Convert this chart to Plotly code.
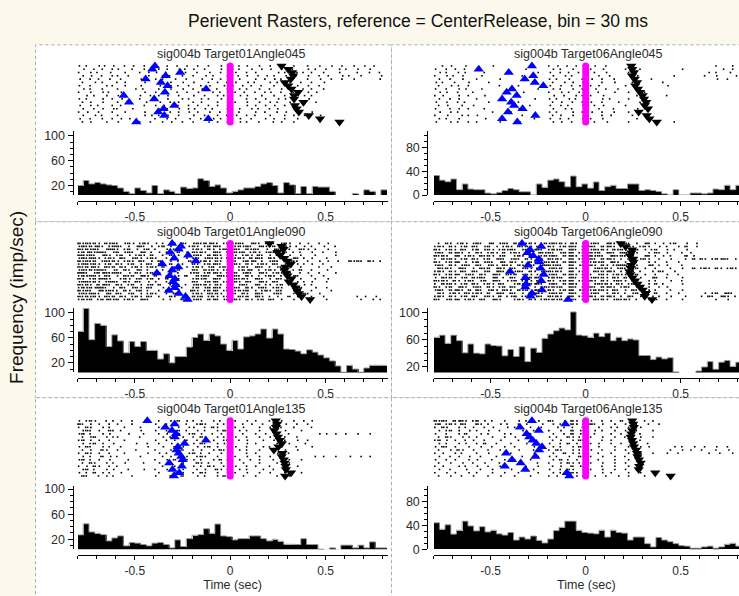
import plotly.graph_objects as go

FIG_W, FIG_H = 739, 596
FONT = "Liberation Sans, Arial, sans-serif"

TITLE = "Perievent Rasters, reference = CenterRelease, bin = 30 ms"
Y_LABEL = "Frequency (imp/sec)"
X_LABEL = "Time (sec)"
PANEL_TITLES = [
    "sig004b Target01Angle045", "sig004b Target06Angle045",
    "sig004b Target01Angle090", "sig004b Target06Angle090",
    "sig004b Target01Angle135", "sig004b Target06Angle135",
]
X_TICKS = [-0.5, 0, 0.5]
X_TICK_LABELS = ["-0.5", "0", "0.5"]

# histogram: 30 ms bins starting at -0.8 s, firing rate in imp/sec
HIST_START = -0.8
HIST_BIN = 0.03

TL_RATE = [20, 28, 22.6, 25, 22.6, 21, 20, 16, 10.6, 7, 16, 12, 8, 20, 7, 13, 10.6, 7,
           17.4, 15, 16, 31, 28, 18.4, 21, 16, 8, 10.6, 13, 16, 16, 18.4, 22.6, 24.7, 20, 8,
           24.7, 21, 7, 18.4, 7, 18.4, 17.4, 17.4, 10.6, 0, 0, 0, 7, 0, 13, 10.6, 0, 13]
TR_RATE = [33, 25, 22.5, 27, 9, 18.6, 10, 9, 9, 3.3, 2, 4.4, 7.7, 11, 9, 5.5, 5.5, 0,
           18.6, 13, 25, 27, 22.5, 14, 32, 14, 18.6, 11.5, 22, 7.7, 14, 16.4, 11, 11, 18.6, 18.6,
           7.7, 9, 7.7, 6, 2, 0, 9, 0, 0, 3.3, 3.3, 2, 3.3, 10, 9, 16.4, 9, 16.4]
ML_RATE = [70, 107, 57, 83, 80, 46, 64.7, 55, 36, 54, 46, 54, 40, 40, 26, 34.5, 20, 30,
           30, 45, 60.5, 66, 56, 66, 63, 50, 40, 56, 42, 61.5, 63, 66, 74, 59.5, 74, 66,
           42, 41.3, 38.7, 34.5, 40.8, 37, 32.5, 28, 23, 15, 5, 16, 10, 5, 11.7, 16, 16, 16]
MR_RATE = [64, 67, 55, 67, 59, 41, 54, 40.5, 39.5, 54, 51.7, 51, 36.6, 46, 35.6, 50, 28, 47.8,
           41.5, 62.4, 68.8, 73.7, 77.6, 75, 101.5, 67.3, 66.3, 64, 70, 65, 70, 59, 64, 59, 61.5, 60,
           37, 37, 31, 34.6, 32, 33.7, 12.7, 10, 10, 10, 14, 20, 28, 16.6, 27, 29.7, 21, 27]
BL_RATE = [27, 44.7, 31.6, 29.5, 27.4, 17.4, 22, 25.3, 9.5, 14.7, 13.7, 11.6, 9.5, 13.7, 14.7, 11.6, 6.3, 19,
           8.4, 21, 26.3, 27.4, 36.8, 29.5, 44.2, 25.3, 24.2, 19, 21, 21, 25.3, 25.3, 21, 17.4, 20, 16.8,
           12, 12, 11.6, 21, 11.6, 11.6, 4.2, 3, 6.3, 3, 10.5, 10.5, 6.3, 10.5, 6.3, 15.8, 6.3, 6.3]
BR_RATE = [44.4, 33.4, 41, 25.2, 31.8, 47, 39, 30.7, 37.8, 29, 31.8, 25.8, 23.6, 28, 15.3, 20.3, 17, 22,
           14.8, 10.4, 17, 31.2, 36.7, 47, 47, 31.8, 28, 26.8, 25.8, 31.8, 20.3, 31.8, 28, 26.8, 15.3, 20.3,
           20.3, 9.3, 3.8, 19.7, 15.3, 12.6, 9.3, 6, 5, 1.6, 1.6, 3.8, 5, 1.6, 3.8, 8.2, 9.9, 5]

# per-trial event times (s) relative to CenterRelease: earlier event (blue) and later event (black)
TL_BLUE = [-0.394, -0.408, -0.262, -0.338, -0.443, -0.363, -0.328, -0.126, -0.342, -0.558,
           -0.398, -0.530, -0.293, -0.349, -0.377, -0.345, -0.115, -0.492]
TL_BLACK = [0.269, 0.304, 0.325, 0.330, 0.318, 0.286, 0.304, 0.321, 0.356, 0.335,
            0.335, 0.384, 0.339, 0.348, 0.36, 0.412, 0.471, 0.573]
TR_BLUE = [-0.283, -0.563, -0.405, -0.276, -0.321, -0.268, -0.223, -0.388, -0.416, -0.363,
           -0.44, -0.392, -0.377, -0.332, -0.409, -0.265, -0.44, -0.36]
TR_BLACK = [0.240, 0.245, 0.254, 0.244, 0.258, 0.27, 0.261, 0.275, 0.286, 0.300,
            0.307, 0.319, 0.311, 0.328, 0.279, 0.321, 0.335, 0.374]
ML_BLUE = [-0.304, -0.258, -0.27, -0.314, -0.22, -0.293, -0.181, -0.356, -0.272, -0.304,
           -0.384, -0.317, -0.290, -0.30, -0.286, -0.290, -0.321, -0.269, -0.234, -0.223]
ML_BLACK = [0.206, 0.269, 0.28, 0.248, 0.262, 0.283, 0.30, 0.318, 0.29, 0.286,
            0.293, 0.30, 0.321, 0.307, 0.332, 0.342, 0.35, 0.360, 0.374, 0.419]
MR_BLUE = [-0.335, -0.234, -0.293, -0.307, -0.276, -0.247, -0.244, -0.304, -0.237, -0.398,
           -0.221, -0.318, -0.234, -0.314, -0.318, -0.230, -0.283, -0.29, -0.093]
MR_BLACK = [0.184, 0.21, 0.244, 0.24, 0.233, 0.25, 0.251, 0.24, 0.237, 0.23,
            0.235, 0.247, 0.26, 0.272, 0.286, 0.30, 0.317, 0.311, 0.349]
BL_BLUE = [-0.434, -0.291, -0.340, -0.305, -0.284, -0.29, -0.127, -0.239, -0.274, -0.281,
           -0.270, -0.256, -0.249, -0.319, -0.253, -0.302, -0.267, -0.295]
BL_BLACK = [0.239, 0.246, 0.24, 0.232, 0.243, 0.25, 0.260, 0.271, 0.253, 0.229,
            0.274, 0.27, 0.281, 0.285, 0.29, 0.292, 0.319, 0.288]
BR_BLUE = [-0.283, -0.107, -0.346, -0.247, -0.311, -0.297, -0.279, -0.26, -0.230, -0.245,
           -0.419, -0.265, -0.388, -0.342, -0.426, -0.318, -0.100, -0.086]
BR_BLACK = [0.245, 0.25, 0.253, 0.245, 0.24, 0.237, 0.244, 0.25, 0.254, 0.265,
            0.27, 0.272, 0.28, 0.289, 0.282, 0.279, 0.366, 0.447]

# spike trains: one string per trial, one character per 20 ms slot starting at -0.8 s
# '.' no spike, '0'-'4' one spike (offset in 4 ms steps), ':' two spikes; spaces ignored
SLOT_START = -0.8
SLOT = 0.02

TL_SPIKES = [
    "2.1..3.0.2 ..1.3..2.. 1..2..0.3. .2..1..3.. ..1.2..3.. 2..1..3... 1..2..3..1 ..2..1.3..",
    ".3..1.2..0 3...1..2.. .1.2..3.0. 2..1...3.. 2.1..3..1. 3..2..1... 2.1..0..3. 1..2..3...",
    "1..2.0..3. ..2...1.3. 3..0..2.1. .1..3..2.. .2..1.3... ..3.1..2.0 .1..2...3. ...1..2..0",
    ".2.3..1..0 2..1....3. ..1.0..2.. 1..3.2...1 ..0.2..1.3 .2..3..1.. 2..1.3...2 .0..1....3",
    "3..1.2..2. .1....3... 2.1..3..2. ..3..1.2.. 1.2...3..0 .3.1..2... 1..3..2..1 ..2......1",
    ".1..3.2... 1.2....3.. ..1.2..3.. 2...1.3..0 .2..3.1... 2.1..3..2. .1..3",
    "2..1...3.0 ..2...3... .3..2.1..0 ..1.3...2. 3..1.2..0. .2...1.3.. 2..1.",
    ".3.1..2... 2....1.0.. .1..2..3.. 1.3...2..1 ..2.1..3.. 1..2.3...0 .1..2",
    "1..2..3.0. .2.....3.. 2..1..0.3. .3...2.1.. .1.3..2..0 3..1..2... 2.3",
    "..2.1..3.. 3.....2..0 .1.3..2... 2..1..3.1. ..3.2...1. .2..1.3..2 .1",
    "2.1...3..0 .3....1... 1..3...2.0 ..2.1..3.. 2...1.3..1 ..3.2..1.. 3.",
    ".1.2..3... 2..1....0. .3..1.2... 1.2...3..2 .1..2..3.. 2.1..3... 1..2",
    "3..2.1...0 .1.....2.. 2.3...1..0 .2..1.3... 1...2.3..1 .3..1..2..",
    ".2..1.3..2 1...2..... .1.2..3..0 3..2.1...1 ..2..3.1.. 1.2...3...",
    "1.3..2...0 ..2....3.. 3...1.2..1 .2..3..1.. 2.1...3..0 ..1.3..2.. .2",
    ".2..3.1... 2......3.2 .1.3..2... 2..1..3..0 .3..1.2... 2...1.3..2 1..3",
    "3..1..2..0 .2.3...... 1..2.3...2 ..1..3.2.. 1.3..2...1 .2..1..3.. ...2",
    ".1.2...3.. 3.....1..0 ..1.3..2.. 1...2.3..1 ..3.1..2.. .1.2..3...",
]
TR_SPIKES = [
    "..1.3...2. .....3.... .......... 1.3..0.2.. ..2..1.... ..1....... .......... ....1...3.",
    "2..1.3..0. .2........ ....1..... .2.1..3..2 .1..3..... 2...1..... .....2.... ......1.3.",
    ".3.1..2.1. ...1...... .......2.. 3..1.2..0. ..1..2.... .1........ .......... ..2.1...0.",
    "1..2.0.3.. ..3....... ...1...... .2..3.1..2 ...2..1... ...3...... ...1...... .1..2....3",
    ".2..1..3.. .1.....2.. .......... 2.1..3...0 .3..1..2.. .......1.. .......... ....3..1..",
    "3.1..2...1 ....2..... ......1... .1..2.3..1 2...1..3.. ..1....... 1",
    ".1..3.2..0 .......1.. ..1....... 3..2..1.2. .1.2...... 2......... .3",
    "2..1..3.2. ..3....... .......2.. .2.1..3..0 ..3..1..2. ....1.....",
    ".3.2..1... 1......... ...3...... 1..3.2..1. 2..1...3.. .1...2....",
    "1.2...3..0 ...2...... .1........ .3..1..2.0 .1..3..... ...2...... .1",
    ".2..1.3... .1.....2.. ......3... 2.1..3.1.. 3...2.1... .1........",
    "3..2..1.0. ....2..... ..1....... .1.3..2..0 .2..1...3. ....1.....",
    ".1.3...2.. 2......... .....1.... 3..2.1...1 ..1.3..... 2.........",
    "2...1.3..0 ...1...... ..2....... .2..3.1..2 1..2...1.. ...3......",
    ".3..2.1... .....2.... 1......... 2.1...3..0 .3..1..2.. .1",
    "1..3...2.0 .2........ ...1...... .1.2..3... 2...1.3... ..1.......",
    ".2.1..3... ...3...... ......2... 3..1.2...1 .1..2..... ...2",
    "3...2.1..0 .1.....2.. ..3....... .2.3..1..2 ..1..3.... .1........ ...1",
]
ML_SPIKES = [
    ":2:1:3.:2: 1.2:3.1:2. 3.1..2.:1. 2:1:3:2.1: :2:1.3:2.1 :1.2:3..1. 2..1.3....",
    "2:1:3:2.1: :1.2.3:1.2 .1:.2..3.1 :2.1:3:1.2 .1:2:1.3:2 2:.1:3.1.2 .1..3..2..",
    ":1:2:1.3:: 2.1:.3.2:. 1..2.:.1.. 1:2.:3.1:: 2:1.:2:1.3 .3:1.2..:1 2.1..3....",
    "1:3:2::1.2 :.2:1.3:.1 .2.1..:.3. :1:2.3:1.: 1:2:.1:3.2 :1.3:.2.1. .2..1..3..",
    "::2:1.3:2. 1:.3.1:2.: ..1.:.2..1 2:1.:3:2.1 :2.1:3.:1. 2.:1.3..2. ..1....3..",
    "2:1::3.1:2 .:1.2:3.1: 2..1.:..3. 1:.2:1:3.: .1:2.:3:1. :2.1..3:.1 .2...1....",
    ":2:1:.2:1: 3.1:2.:1.2 .:..2.1..: 2:1:3.:2.1 :1.2:3:.1. 2:1.3.:2.. 1..2.3..1. .:2:1.:2.1",
    "1::2:3.1:. :2.1:.3.:1 .1..:..2.. :2.1:3:1.2 1:2.:3.1:2 .:1.2..3.1 .2..1.....",
    ":1:3:2.:1: .:2.1:3.1: 2.:..1..3. 1:3.2:.1:2 :.1:2.3:1. 1.2:.3..2. ...1..2...",
    "2:1:2::1.3 1.:2.3:.1. ..1.2.:... :1.:2:3.1: 2.1:3:.2.1 :3.1..2.:. .1...2....",
    "::1.2:3:1: :1.3.:2.1: .2..:.1..3 2:.1:3:2.: 1:.2:1.3:2 .1:2.3..1. 2..1...3..",
    "1:2::3.:1. 2.:1:.3:2. :..1..2.:. .:2:1.3:1: 2:1.:3.2.1 :2.1..3:.. .1..2.....",
    ":2.1:3::2. .1:3.2:.1: .1.:..2... 1:2:.3:1.2 .:1:2.3:1. 2.:1.3..2. ..1..3....",
    "2::1:3.2:: 1.:2.:1.3. 2..1.:.... :1.2:3:.1: 1:2.:1.3:2 .:1..2.3.1 .2...1....",
    ":1:2.:3:1. :2.1:.3.2: .:..1.2.1. 2:1:3.:2.1 :.2:1.3:.1 2.1:..3..2 .1........",
    "1:2:3::1.2 .:1.2:3.:1 ..2..:.1.. 1:.2:3:1.: 2:1.:3.2:1 .1:2..3.:. ..2..1....",
    ":2:1.3:2:1 1.:3.2:.1. .1.:..2..3 :2.1:3:.1: .1:2:.3.1: 2.:1..3.1. .1....2...",
    "2:1::2.3:. :1.2:.3.1: 2..1.:.... 1:2.:1:3.2 :1.:2.3:1. .2:1..3..: 1..2......",
    ":1:2:3.:1: .:2.1:3.:1 .1..:2..1. :2:.1:3.1: 2.:1:.3:2. 1.2..:.3.. .1..2..... ...1.2..1.",
    "1:2:.1:3:2 :.1:2.3:1. ..2.1..:.. 2:1.:3:.2: 1:2.:3.1:. :1.2..3... 2....1.... ....1..2.1",
]
MR_SPIKES = [
    ".1.:2.1:3. 2:1.3:.2:1 .:2.1:3.1: 2:1:3.:2.1 :2:1.3:2.1 :1.2.3:.1. 2.1:..3..1",
    "1:2.:3.1:. :1.2:.3.1: 2.:1:3.:2. :2.1:3:1.: 2:1.:3:2.1 .:2.1:3..2 .1..2.:..1",
    ":2.1:3.:1. 1:.2:3.1:2 :1.2:.3:1. 1:2:.3:1.: .2:1:3.:2: 2.1:.3.1:. .2.1..3...",
    "2:1.:3:2.1 .:2.1:3.:. 1:2.:1.3:2 :1.2:3:.1: 1:2:.3:1.: :1.2..3.:1 .2...1.3..",
    ":1:2.3:.1: 2.:1:3.2:. .1:2.:3.1: 2:1.:3:2.: .:2:1.3:1: 1:2..3:.1. 2.1...:.2.",
    "1.:2:3.1:. :2.1:.3:1. 2:1.:3.:2. :1:2.3:.1: 2:1.:3:2.1 .:1.2:3..1 ..2...1.:. :2.1:3:1.2",
    ":2.1:3:.2. 1:.2:1.3:. :2.1.:3.1: 1:2.:3:1.: .1:2:.3:2. 2.:1..3.1. .1..2.....",
    "2:1.:3.2:1 .:1.2:3.:1 1.:2.:1.3: :2:1.3:.2: 1:2.:3.1:: :1.2..3:.1 .2...1....",
    ".:1:2.3:1. 2.:1:.3:2. :1.2:3.:1. 2:1:.3:2.1 :.2:1:3.2: 1.2:.3..1. ..1..2..:. 1:2.:3.1:2",
    "1:2.:3.:1. :1.2:.3:1. .2:1.:3.2: :1:2.3:.1: 2.:1:3:2.1 .:2.1..3.: 1..2......",
    ":2.1:3:.2: 1.:2.3:1.: 1:.2:3.1:. 2:1.:3:2.: :1.2:3.1:2 2.1:.3..1. .2..1.....",
    "2.:1:3.2:. :2:1.3:.1. :1.2.:3:1. 1:2:.3:1.: .2:1:3.:2. :.1.2..3:. .1...2....",
    ":1:2.:3.1: 1.2:.3:1.2 2:.1:3.:2. :2.1:3:.1: 1:2.:3.2:1 2.:1..3.1. ..2..1....",
    "1.:2:3.1:. :2.1:3.:1. .1:2.:3:1. 2:1.:3:2.1 :.2:1:3.:2 .1:2..3.:. 1....2....",
    ":2.1:.3:2. 2:1.:3.1:. :1.2:.3.1: 1:2:.3:1.: 2:1.:3:2.1 :1.2..3..1 .2........",
    "2:1.:3:2.: .:1.2:3.:1 1.:2:.3:1. :2.1:3:.2: .1:2:3.:1. 2.:1..3.1. ..1..2....",
    ".:2.1:3.:1 1:2.:.3:1. :1.2.:3:2. 2:1:.3:1.: :2:1.3.:2. 1.2:.3..:. .1..2..... .2.1:.3:1.",
    "1:2.:3.1:. :1.2:3.:.1 2:.1:3.:1. :1:2.3:.1: 1:2.:3:2.1 .:1.2..3.1 ..2...1... 2.:1.3:2.1",
    ":1.2:3:.1: 2.:1.3:2.. .1:2.:3.1: 1:2:.3:1.: 2.:1:3.2:1 :2.1..3.:. .1...2.... ....1..2..",
]
BL_SPIKES = [
    "2.1:3..2.1 .2..1..3.. .1..2.:.3. 1.2..3.1.2 .1..2.3... 1..2..3..1 .2",
    ":1.2.3..1. 2...1..... 2..1.3..2. .1:2..3.1. 2..1.3..2. .1..3..2.. 1",
    "1.:2..3.1. ..1...2... .1..3.2..1 2..1.:3..2 .1.2...3.. 2..1..3... .1",
    ".2:1.3..:1 .1....3... 2..1..:.2. .2.1..3.:1 ..2.1..3.. .1..2...3.",
    "2:.1..3.2. ...2...1.. .1.2..3..1 :.2..1.3.. 2..1..3..1 ..2..1.... ...2.1.3.. 1..2..3...",
    ".1.2:..3.1 2.....1... ..2.1..3.. 1.:2..3.1. .2..1..3.. 2...1..2..",
    "1:.2.3..1. ..1....... 2..1.2..:. .1.2.3..1: ..1.2...3. .2..1..3.. 1",
    ".2.1:.3..2 .....2..1. .1..3..2.. 2.:1..3.2. 1...2.3... ..1..2...3",
    "2.:1..3.1. .1......2. ..2..1.3.. .2.1:.3..1 .2..1...3. 1..2...1.. .2",
    ".1.2..:3.. 2....1.... 1...2..:.. 1.2..3.:1. ..2.1..3.. .1..2..3..",
    "1.:2.3..1. ..1.....2. .2.1..3..1 :.1.2..3.. 2...1.3... ..2..1....",
    ".2.1..:.3. 1.....2... ..1.2...3. .1:2..3..2 .1..2..3.. 2..1...... ..1.2..3.. .2..1.3...",
    "2:.1.3..2. ...1...... 1..2.:..3. 2.1..3.:.1 ..2..1.3.. .1...2..3.",
    ".1.:2..3.1 ..2....1.. .2..1..3.. .:2.1..3.2 1..2...3.. ..1..2....",
    "1.2.:3..1. 1......... ..1..2.:.. 2.1.:3..1. .2..1.3... 1...2..3..",
    ".2:.1..3.2 ...1...2.. 1..2...3.. .1.2..:3.1 ..2.1...3. .1..2.....",
    "2.1.:.3.1. .2........ .1...2.3.. 1.:2..3..2 .1..2..3.. 2...1...3.",
    ".:1..2.3.1 ....1..... 2...1..:.. .2.1..3.:. 1..2..3... ..1..2....",
]
BR_SPIKES = [
    ":2:1.:3:2. 1:.2.1..3.. .2.1..3..: 1..2.:3.1. 2..1.3..:. .1..2.3...",
    "2:.1:3.:1. .:2.1..3.1 ..1.2...3. .2.1..:3.1 .:1.2..3.. 2..1..2..1",
    "1.:2..3.1. 2..1.3...2 .1...2..1. ..3.1.2..: 1..2..3.1. .1..2.....",
    ".2.1:.3..2 .1..2..1.. ...2..1... 1..2..:.3. ..2.1..3.. 2..1...3..",
    "2..1..3.:. ..2.1...3. 1....2.... .2..1.:.3. 2.1...3..1 .2..1.....",
    ".1.:2..3.1 .1...2..3. .2...1.... 2.1..:3.1. .1..2..3.. 1...2..3..",
    "1:.2.3..1. 2..1...3.. ..1...2... .1.2..3.:1 2...1.3... .2..1.....",
    ".2.1..3.2. .1.:..2... 1...2..... 2..1.:.3.. .1.2..3..1 ..2...1...",
    "2.:1.3...1 ..2..1..3. .1....2... .2.1..3.:. 1..2...3.. .1..2.3... ...2.1..3. .1..2..1..",
    ".1..2.:3.. 2...1..2.. ..2...1... 1.:2..3.1. .2..1..3.. 2..1...... ..1..2.3.. 2...1..3..",
    "1.2..3.1.. .1..2...3. 1.....2... .2..:.3.1. 2..1..3... .1..2..3.. .2..1..... ..2..1..3.",
    ".2..1.3..2 ..1...2... ...1...2.. 2.1..3..:. .1..2..3.. 1...2.....",
    "2..1.3...1 .2...1..3. .1...2.... .2.:.1.3.. 2..1...3.. .1..2.....",
    ".1..2..3.. 1..2...1.. ..2....1.. 1..2.:3.1. .1..2..3.. 2...1.....",
    "1.2...3.1. .2..1..2.. ....1..2.. .1.2..:.3. 2...1..3.. .1..2.....",
    ".2..1...3. ..1..2.... 2.....1... 2..1.:3..1 .1..2..3.. 2..1......",
    "1..2.3...1 .1...2..3. ..1....2.. .2.1..:3.. 1...2.3... .1..2.....",
    ".1..2..1.. 2...1..3.. .1...2.... 1.2..:.3.1 ..2..1..3. .1...2....",
]

PANEL_DATA = [
    (TL_SPIKES, TL_BLUE, TL_BLACK, TL_RATE),
    (TR_SPIKES, TR_BLUE, TR_BLACK, TR_RATE),
    (ML_SPIKES, ML_BLUE, ML_BLACK, ML_RATE),
    (MR_SPIKES, MR_BLUE, MR_BLACK, MR_RATE),
    (BL_SPIKES, BL_BLUE, BL_BLACK, BL_RATE),
    (BR_SPIKES, BR_BLUE, BR_BLACK, BR_RATE),
]

# ---------------- page geometry (pixels) ----------------
COLS = [
    dict(box=(35.5, 391.5), yline=72.5, plot=(77.5, 387.6), xr=(-0.8, 0.825), mid=231.5),
    dict(box=(391.5, 760.0), yline=427.3, plot=(433.7, 739.0), xr=(-0.8, 0.807), mid=588.0),
]
ROWS = [
    dict(box=(42.5, 222.5), title=51.5, raster=(64.0, 121.0), hist=(130.0, 195.3), xline=201.7),
    dict(box=(222.5, 401.5), title=232.5, raster=(244.5, 301.5), hist=(310.0, 375.7), xline=381.7),
    dict(box=(401.5, 640.0), title=412.5, raster=(425.0, 481.0), hist=(491.0, 555.5), xline=561.7),
]
HIST_YRANGE = [(4.7, 108), (0, 108.6), (4.7, 108), (12, 107.7), (4.2, 105.3), (0, 106.6)]
HIST_TICK0 = [20, 0, 20, 20, 20, 0]

BG = "#FCF9EC"
TEXT = "#2b2b2b"


def fx(p):
    return p / FIG_W


def fy(p):
    return 1 - p / FIG_H


def parse_train(s):
    s = s.replace(" ", "")
    times = []
    for i, ch in enumerate(s):
        t0 = SLOT_START + i * SLOT
        if ch == ".":
            continue
        if ch == ":":
            times += [t0 + 0.003, t0 + 0.013]
        else:
            times.append(t0 + 0.002 + 0.004 * int(ch))
    return times


def names(n):
    s = "" if n == 1 else str(n)
    return "x" + s, "y" + s, "xaxis" + s, "yaxis" + s


fig = go.Figure()
layout_axes = {}
shapes = []
annotations = []

for k, (spikes, blue, black, rate) in enumerate(PANEL_DATA):
    r, c = divmod(k, 2)
    col, row = COLS[c], ROWS[r]
    n = len(spikes)
    rows_idx = list(range(n))

    # panel frame
    shapes.append(dict(type="rect", xref="paper", yref="paper",
                       x0=fx(col["box"][0]), x1=fx(col["box"][1]),
                       y0=fy(row["box"][1]), y1=fy(row["box"][0]),
                       fillcolor="white", layer="below",
                       line=dict(color="#ABABAB", width=1, dash="dot")))
    annotations.append(dict(text=PANEL_TITLES[k], x=fx(col["mid"]), y=fy(row["title"]),
                            xref="paper", yref="paper", showarrow=False,
                            xanchor="center", yanchor="middle", borderpad=0,
                            font=dict(size=12.5, color=TEXT, family=FONT)))

    # ---- raster ----
    rx, ry, rxa, rya = names(2 * k + 1)
    xs, ys = [], []
    for i, s in enumerate(spikes):
        tt = parse_train(s)
        xs += tt
        ys += [i] * len(tt)
    fig.add_trace(go.Scatter(x=xs, y=ys, mode="markers", xaxis=rx, yaxis=ry,
                             marker=dict(symbol="square", size=1.6, color="black", line_width=0),
                             cliponaxis=False, hoverinfo="skip"))
    fig.add_trace(go.Scatter(x=[0.0] * n, y=rows_idx, mode="markers", xaxis=rx, yaxis=ry,
                             marker=dict(symbol="circle", size=7, color="#FF00FF", line_width=0),
                             cliponaxis=False, hoverinfo="skip"))
    fig.add_trace(go.Scatter(x=blue, y=rows_idx, mode="markers", xaxis=rx, yaxis=ry,
                             marker=dict(symbol="triangle-up", size=9, color="#0000FF", line_width=0),
                             cliponaxis=False, hoverinfo="skip"))
    fig.add_trace(go.Scatter(x=black, y=rows_idx, mode="markers", xaxis=rx, yaxis=ry,
                             marker=dict(symbol="triangle-down", size=9, color="black", line_width=0),
                             cliponaxis=False, hoverinfo="skip"))
    layout_axes[rxa] = dict(domain=[fx(col["plot"][0]), fx(col["plot"][1])], range=list(col["xr"]),
                            visible=False, anchor=ry, fixedrange=True)
    layout_axes[rya] = dict(domain=[fy(row["raster"][1]), fy(row["raster"][0])], range=[n - 1, 0],
                            visible=False, anchor=rx, fixedrange=True)

    # ---- histogram ----
    hx, hy, hxa, hya = names(2 * k + 2)
    centers = [HIST_START + HIST_BIN * (i + 0.5) for i in range(len(rate))]
    edges = [HIST_START + HIST_BIN * i for i in range(len(rate) + 1)]
    fig.add_trace(go.Bar(x=centers, y=rate, width=HIST_BIN, xaxis=hx, yaxis=hy,
                         marker=dict(color="black", line_width=0), hoverinfo="skip"))
    fig.add_trace(go.Scatter(x=edges, y=rate + [rate[-1]], mode="lines", xaxis=hx, yaxis=hy,
                             line=dict(shape="hv", color="#8f8f8f", width=1), hoverinfo="skip"))
    xa = dict(
        domain=[fx(col["plot"][0]), fx(col["plot"][1])], range=list(col["xr"]),
        anchor="free", position=fy(row["xline"]),
        tickvals=X_TICKS, ticktext=X_TICK_LABELS, ticks="outside", ticklen=4, tickwidth=1,
        tickcolor="black", showline=True, linecolor="black", linewidth=1,
        showgrid=False, zeroline=False, fixedrange=True,
        tickfont=dict(size=12, color=TEXT, family=FONT),
        minor=dict(dtick=0.1, tick0=0, ticks="outside", ticklen=3, tickcolor="black", showgrid=False))
    if r == 2:
        xa["title"] = dict(text=X_LABEL, standoff=3,
                           font=dict(size=12.5, color=TEXT, family=FONT))
    layout_axes[hxa] = xa
    y0 = HIST_TICK0[k]
    layout_axes[hya] = dict(
        domain=[fy(row["hist"][1]), fy(row["hist"][0])], range=list(HIST_YRANGE[k]),
        anchor="free", position=fx(col["yline"]),
        tick0=y0, dtick=40, ticks="outside", ticklen=5, tickwidth=1,
        tickcolor="black", showline=True, linecolor="black", linewidth=1,
        showgrid=False, zeroline=False, fixedrange=True,
        tickfont=dict(size=12.5, color=TEXT, family=FONT),
        minor=dict(dtick=10, tick0=0, ticks="outside", ticklen=3, tickcolor="black", showgrid=False))

annotations.append(dict(text=TITLE, x=fx(418), y=fy(18), xref="paper", yref="paper",
                        showarrow=False, xanchor="center", yanchor="middle",
                        font=dict(size=17.5, color="#111111", family=FONT)))
annotations.append(dict(text=Y_LABEL, x=fx(17), y=fy(300), xref="paper", yref="paper",
                        showarrow=False, xanchor="center", yanchor="middle", textangle=-90,
                        font=dict(size=19, color="#111111", family=FONT)))

fig.update_layout(
    width=FIG_W, height=FIG_H,
    margin=dict(l=0, r=0, t=0, b=0),
    paper_bgcolor=BG, plot_bgcolor="rgba(0,0,0,0)",
    showlegend=False, bargap=0,
    shapes=shapes, annotations=annotations,
    **layout_axes,
)

fig.write_html("out.html")
